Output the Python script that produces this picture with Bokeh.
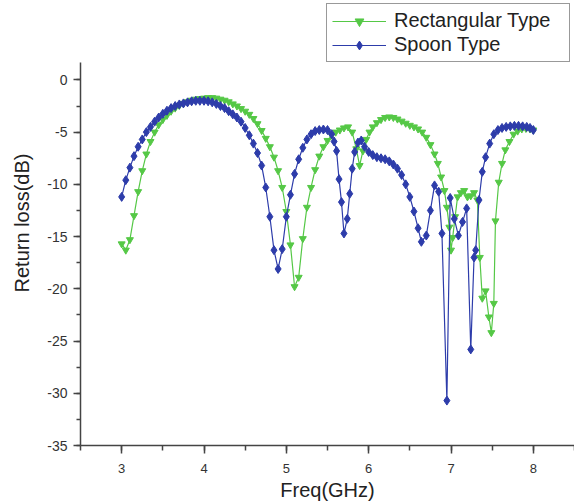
from bokeh.plotting import figure
from bokeh.models import SingleIntervalTicker, Legend, LegendItem, Range1d, PrintfTickFormatter
from bokeh.embed import file_html
from bokeh.resources import INLINE

# Rectangular Type (green, inverted triangles)
rect_freq = [3.00, 3.05, 3.10, 3.15, 3.20, 3.25, 3.30, 3.35, 3.40, 3.45, 3.50, 3.55, 3.60, 3.65,
             3.70, 3.75, 3.80, 3.85, 3.90, 3.95, 4.00, 4.05, 4.10, 4.15, 4.20, 4.25, 4.30, 4.35,
             4.40, 4.45, 4.50, 4.55, 4.60, 4.65, 4.70, 4.75, 4.80, 4.85, 4.90, 4.95, 5.00, 5.05,
             5.10, 5.15, 5.20, 5.25, 5.30, 5.35, 5.40, 5.45, 5.50, 5.55, 5.60, 5.65, 5.70, 5.75,
             5.80, 5.85, 5.89, 5.93, 5.97, 6.01, 6.05, 6.10, 6.15, 6.20, 6.25, 6.30, 6.35, 6.40,
             6.45, 6.50, 6.55, 6.60, 6.65, 6.70, 6.75, 6.80, 6.84, 6.88, 6.92, 6.95, 6.98, 7.00,
             7.02, 7.05, 7.08, 7.12, 7.16, 7.20, 7.24, 7.28, 7.32, 7.35, 7.38, 7.42, 7.46, 7.49,
             7.52, 7.54, 7.58, 7.62, 7.66, 7.71, 7.76, 7.81, 7.86, 7.91, 7.96, 8.00]
rect_rl = [-15.7, -16.3, -15.3, -13.0, -10.7, -8.7, -7.1, -5.9, -5.0, -4.3, -3.8, -3.4, -3.0, -2.7,
           -2.45, -2.25, -2.1, -1.95, -1.85, -1.8, -1.75, -1.7, -1.7, -1.75, -1.85, -1.95, -2.1, -2.3,
           -2.5, -2.75, -3.0, -3.3, -3.7, -4.2, -4.85, -5.6, -6.4, -7.4, -8.7, -10.3, -12.6, -15.8,
           -19.8, -18.9, -15.2, -12.2, -10.3, -8.6, -7.3, -6.4, -5.8, -5.3, -5.0, -4.8, -4.6, -4.5,
           -5.0, -6.6, -8.2, -6.8, -5.7, -5.0, -4.5, -4.1, -3.8, -3.6, -3.55, -3.6, -3.75, -3.95,
           -4.15, -4.35, -4.5, -4.7, -5.0, -5.5, -6.2, -7.1, -8.0, -9.3, -10.6, -12.2, -14.1, -16.3,
           -15.1, -13.1, -11.2, -10.8, -10.6, -11.2, -11.1, -10.8, -11.5, -17.0, -20.9, -20.2, -22.7, -24.2,
           -21.4, -13.5, -9.8, -8.0, -6.7, -5.9, -5.2, -4.9, -4.7, -4.65, -4.7, -4.8]

# Spoon Type (blue, diamonds)
spoon_freq = [3.00, 3.05, 3.10, 3.15, 3.20, 3.25, 3.30, 3.35, 3.40, 3.45, 3.50, 3.55, 3.60, 3.65,
              3.70, 3.75, 3.80, 3.85, 3.90, 3.95, 4.00, 4.05, 4.10, 4.15, 4.20, 4.25, 4.30, 4.35,
              4.40, 4.45, 4.50, 4.55, 4.60, 4.65, 4.70, 4.75, 4.80, 4.85, 4.90, 4.95, 5.00, 5.05,
              5.10, 5.15, 5.20, 5.25, 5.30, 5.35, 5.40, 5.45, 5.50, 5.55, 5.58, 5.61, 5.64, 5.67,
              5.70, 5.74, 5.77, 5.80, 5.83, 5.87, 5.91, 5.95, 6.00, 6.05, 6.10, 6.15, 6.20, 6.25,
              6.30, 6.35, 6.40, 6.45, 6.50, 6.55, 6.60, 6.64, 6.70, 6.75, 6.80, 6.85, 6.89, 6.95,
              6.99, 7.04, 7.09, 7.14, 7.19, 7.24, 7.28, 7.30, 7.34, 7.38, 7.42, 7.47, 7.52, 7.57,
              7.62, 7.67, 7.72, 7.77, 7.82, 7.87, 7.92, 7.96, 8.00]
spoon_rl = [-11.2, -9.6, -8.4, -7.3, -6.4, -5.7, -5.0, -4.5, -4.0, -3.6, -3.25, -2.95, -2.7, -2.5,
            -2.35, -2.25, -2.15, -2.05, -2.0, -2.0, -2.0, -2.05, -2.15, -2.3, -2.5, -2.7, -3.0, -3.3,
            -3.6, -4.0, -4.6, -5.3, -6.1, -7.0, -8.2, -10.3, -13.1, -16.3, -18.1, -16.2, -13.1, -11.0,
            -9.0, -7.6, -6.5, -5.7, -5.2, -4.9, -4.8, -4.75, -4.8, -5.2, -5.9, -6.8, -9.5, -11.7,
            -14.7, -13.3, -10.9, -8.5, -6.9, -6.0, -5.8, -6.4, -6.9, -7.2, -7.4, -7.5, -7.6, -7.8,
            -8.1, -8.5, -9.1, -10.0, -11.2, -12.6, -14.2, -15.5, -14.9, -12.5, -10.1, -10.7, -14.7, -30.7,
            -11.3, -13.3, -14.9, -13.6, -12.3, -25.8, -17.0, -16.3, -11.5, -8.8, -7.4, -6.1, -5.2, -4.8,
            -4.6, -4.5, -4.45, -4.4, -4.4, -4.45, -4.5, -4.6, -4.8]

x_ticks_interval = 1
y_ticks_interval = 5

GREEN = "#55C846"
BLUE = "#2D3CAA"
AXIS = "#444444"
FONT = "Liberation Sans"

p = figure(width=574, height=504, output_backend="svg", toolbar_location=None,
           x_range=Range1d(2.5, 8.5), y_range=Range1d(-35, 7.6),
           min_border_left=80, min_border_right=0, min_border_top=0, min_border_bottom=59)

p.xgrid.visible = False
p.ygrid.visible = False
p.outline_line_color = None

p.xaxis.ticker = SingleIntervalTicker(interval=x_ticks_interval, num_minor_ticks=2)
p.yaxis.ticker = SingleIntervalTicker(interval=y_ticks_interval, num_minor_ticks=2)
p.yaxis.formatter = PrintfTickFormatter(format="%d")
p.yaxis.bounds = (-35, 1.7)
p.xaxis.axis_label = "Freq(GHz)"
p.yaxis.axis_label = "Return loss(dB)"

for ax in (p.xaxis[0], p.yaxis[0]):
    ax.axis_line_color = AXIS
    ax.axis_line_width = 1.5
    ax.major_tick_line_color = AXIS
    ax.major_tick_line_width = 1.5
    ax.minor_tick_line_color = AXIS
    ax.minor_tick_line_width = 1.5
    ax.major_tick_in = 0
    ax.minor_tick_in = 0
    ax.major_label_text_font = FONT
    ax.major_label_text_color = "#333333"
    ax.axis_label_text_font = FONT
    ax.axis_label_text_font_style = "normal"
    ax.axis_label_text_font_size = "20px"
    ax.axis_label_text_color = "#222222"

p.xaxis.major_tick_out = 8
p.xaxis.minor_tick_out = 5
p.xaxis.major_label_text_font_size = "13px"
p.xaxis.major_label_standoff = 10
p.xaxis.axis_label_standoff = 3

p.yaxis.major_tick_out = 7
p.yaxis.minor_tick_out = 4
p.yaxis.major_label_text_font_size = "14px"
p.yaxis.major_label_standoff = 6
p.yaxis.axis_label_standoff = 11

g_line = p.line(rect_freq, rect_rl, line_color=GREEN, line_width=1.2)
g_pts = p.scatter(rect_freq, rect_rl, marker="inverted_triangle", size=7,
                  fill_color=GREEN, line_color=GREEN)
b_line = p.line(spoon_freq, spoon_rl, line_color=BLUE, line_width=1.2)
b_pts = p.scatter(spoon_freq, spoon_rl, marker="diamond", size=9,
                  fill_color=BLUE, line_color=BLUE)

legend = Legend(items=[LegendItem(label="Rectangular Type", renderers=[g_line, g_pts]),
                       LegendItem(label="Spoon Type", renderers=[b_line, b_pts])],
                location=(246, 383), padding=5, spacing=1, margin=0,
                glyph_width=54, glyph_height=22, label_height=22, label_standoff=8,
                label_width=170, label_text_font=FONT, label_text_font_size="20px",
                label_text_color="#222222", border_line_color="#333333",
                border_line_width=1.5, background_fill_alpha=1.0)
p.add_layout(legend)

open("out.html", "w").write(file_html(p, INLINE))
